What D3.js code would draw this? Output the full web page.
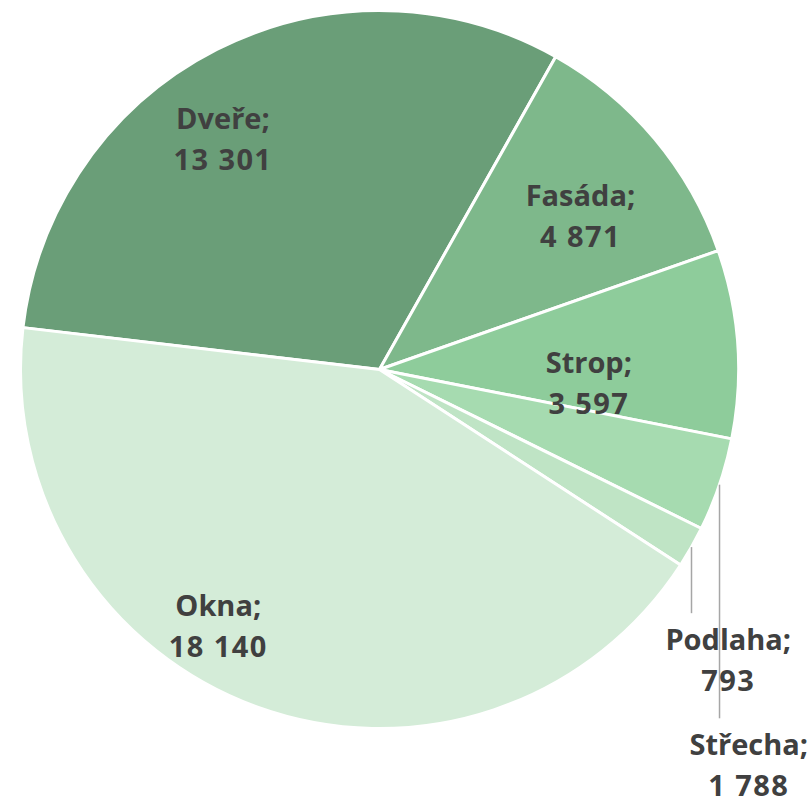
<!DOCTYPE html>
<html>
<head>
<meta charset="utf-8">
<script src="https://cdn.jsdelivr.net/npm/d3@7"></script>
<style>
  html, body { margin: 0; padding: 0; background: #fff; }
  svg text { font-family: "Open Sans", "Noto Sans", sans-serif; font-weight: 700; }
</style>
</head>
<body>
<div id="chart"></div>
<script>
// Data
const categories = ['Dveře', 'Fasáda', 'Strop', 'Střecha', 'Podlaha', 'Okna']
const values = [13301, 4871, 3597, 1788, 793, 18140]
const colours = ['#6a9e78', '#7eb88b', '#8ecc9b', '#a6dbb0', '#bfe4c5', '#d4ecd8']

// Label placement: [radius as share of pie radius, angle in degrees]
const labelLayout = {
  'Dveře': [0.77, -34.5],
  'Fasáda': [0.70, 53.1],
  'Strop': [0.585, 94.6],
  'Střecha': [1.514, 137.2],
  'Podlaha': [1.27, 130.1],
  'Okna': [0.85, 211.9]
}
// Slices whose label sits outside with a vertical leader line
const leaderSlices = ['Střecha', 'Podlaha']

const width = 812
const height = 799
const cx = 379.5
const cy = 369.5
const radius = 359
const startDeg = -83.3
const fontSize = 29
const lineGap = 41

const locale = d3.formatLocale({decimal: ',', thousands: '\u00a0', grouping: [3], currency: ['', ' Kč']})
const fmt = locale.format(',d')

const svg = d3.select('#chart')
  .append('svg')
  .attr('width', width)
  .attr('height', height)

const g = svg.append('g')
  .attr('transform', `translate(${cx},${cy})`)

const rad = d => d * Math.PI / 180

const pie = d3.pie()
  .sort(null)
  .value(d => d.value)
  .startAngle(rad(startDeg))
  .endAngle(rad(startDeg + 360))

const data = categories.map((c, i) => ({name: c, value: values[i], colour: colours[i]}))
const arcs = pie(data)

const arc = d3.arc()
  .innerRadius(0)
  .outerRadius(radius)

// Slices
g.selectAll('.slice')
  .data(arcs)
  .join('path')
  .attr('class', 'slice')
  .attr('d', arc)
  .style('fill', d => d.data.colour)
  .style('stroke', '#ffffff')
  .style('stroke-width', 3)
  .style('stroke-linejoin', 'round')

// Label anchors
const anchor = d => {
  const [f, a] = labelLayout[d.data.name]
  return [radius * f * Math.sin(rad(a)), -radius * f * Math.cos(rad(a))]
}

// Leader lines, vertical from the slice's outer mid point down to the label
g.selectAll('.leader')
  .data(arcs.filter(d => leaderSlices.includes(d.data.name)))
  .join('line')
  .attr('class', 'leader')
  .attr('x1', d => radius * Math.sin((d.startAngle + d.endAngle) / 2))
  .attr('y1', d => -radius * Math.cos((d.startAngle + d.endAngle) / 2))
  .attr('x2', d => radius * Math.sin((d.startAngle + d.endAngle) / 2))
  .attr('y2', d => anchor(d)[1] - 13 - 37)
  .style('stroke', '#a6a6a6')
  .style('stroke-width', 1.5)

// Labels
const labels = g.selectAll('.label')
  .data(arcs)
  .join('text')
  .attr('class', 'label')
  .attr('text-anchor', 'middle')
  .style('font-size', `${fontSize}px`)
  .style('fill', '#404040')

labels.append('tspan')
  .attr('x', d => anchor(d)[0])
  .attr('y', d => anchor(d)[1] - 13)
  .text(d => `${d.data.name};`)

labels.append('tspan')
  .attr('x', d => anchor(d)[0])
  .attr('y', d => anchor(d)[1] - 13 + lineGap)
  .style('letter-spacing', '1.4px')
  .text(d => fmt(d.data.value))
</script>
</body>
</html>
